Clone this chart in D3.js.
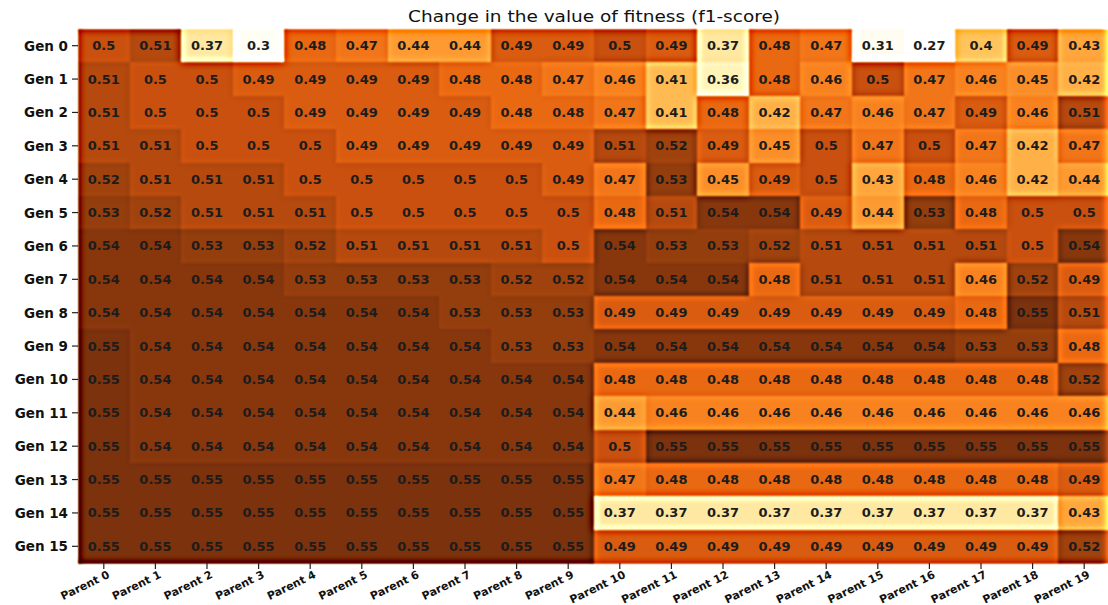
<!DOCTYPE html>
<html>
<head>
<meta charset="utf-8">
<script src="https://cdn.jsdelivr.net/npm/d3@7"></script>
<style>
  body { margin: 0; background: #fff; }
  svg { display: block; font-family: 'DejaVu Sans', sans-serif; }
</style>
</head>
<body>
<svg id="chart" width="1108" height="605"></svg>
<script>
// rows = generations, columns = parents
const generations = ['Gen 0', 'Gen 1', 'Gen 2', 'Gen 3', 'Gen 4', 'Gen 5', 'Gen 6', 'Gen 7',
    'Gen 8', 'Gen 9', 'Gen 10', 'Gen 11', 'Gen 12', 'Gen 13', 'Gen 14', 'Gen 15'];
const parents = ['Parent 0', 'Parent 1', 'Parent 2', 'Parent 3', 'Parent 4', 'Parent 5', 'Parent 6',
    'Parent 7', 'Parent 8', 'Parent 9', 'Parent 10', 'Parent 11', 'Parent 12', 'Parent 13',
    'Parent 14', 'Parent 15', 'Parent 16', 'Parent 17', 'Parent 18', 'Parent 19'];

const f1Scores = [
    [0.50, 0.51, 0.37, 0.30, 0.48, 0.47, 0.44, 0.44, 0.49, 0.49, 0.50, 0.49, 0.37, 0.48, 0.47, 0.31, 0.27, 0.40, 0.49, 0.43],
    [0.51, 0.50, 0.50, 0.49, 0.49, 0.49, 0.49, 0.48, 0.48, 0.47, 0.46, 0.41, 0.36, 0.48, 0.46, 0.50, 0.47, 0.46, 0.45, 0.42],
    [0.51, 0.50, 0.50, 0.50, 0.49, 0.49, 0.49, 0.49, 0.48, 0.48, 0.47, 0.41, 0.48, 0.42, 0.47, 0.46, 0.47, 0.49, 0.46, 0.51],
    [0.51, 0.51, 0.50, 0.50, 0.50, 0.49, 0.49, 0.49, 0.49, 0.49, 0.51, 0.52, 0.49, 0.45, 0.50, 0.47, 0.50, 0.47, 0.42, 0.47],
    [0.52, 0.51, 0.51, 0.51, 0.50, 0.50, 0.50, 0.50, 0.50, 0.49, 0.47, 0.53, 0.45, 0.49, 0.50, 0.43, 0.48, 0.46, 0.42, 0.44],
    [0.53, 0.52, 0.51, 0.51, 0.51, 0.50, 0.50, 0.50, 0.50, 0.50, 0.48, 0.51, 0.54, 0.54, 0.49, 0.44, 0.53, 0.48, 0.50, 0.50],
    [0.54, 0.54, 0.53, 0.53, 0.52, 0.51, 0.51, 0.51, 0.51, 0.50, 0.54, 0.53, 0.53, 0.52, 0.51, 0.51, 0.51, 0.51, 0.50, 0.54],
    [0.54, 0.54, 0.54, 0.54, 0.53, 0.53, 0.53, 0.53, 0.52, 0.52, 0.54, 0.54, 0.54, 0.48, 0.51, 0.51, 0.51, 0.46, 0.52, 0.49],
    [0.54, 0.54, 0.54, 0.54, 0.54, 0.54, 0.54, 0.53, 0.53, 0.53, 0.49, 0.49, 0.49, 0.49, 0.49, 0.49, 0.49, 0.48, 0.55, 0.51],
    [0.55, 0.54, 0.54, 0.54, 0.54, 0.54, 0.54, 0.54, 0.53, 0.53, 0.54, 0.54, 0.54, 0.54, 0.54, 0.54, 0.54, 0.53, 0.53, 0.48],
    [0.55, 0.54, 0.54, 0.54, 0.54, 0.54, 0.54, 0.54, 0.54, 0.54, 0.48, 0.48, 0.48, 0.48, 0.48, 0.48, 0.48, 0.48, 0.48, 0.52],
    [0.55, 0.54, 0.54, 0.54, 0.54, 0.54, 0.54, 0.54, 0.54, 0.54, 0.44, 0.46, 0.46, 0.46, 0.46, 0.46, 0.46, 0.46, 0.46, 0.46],
    [0.55, 0.54, 0.54, 0.54, 0.54, 0.54, 0.54, 0.54, 0.54, 0.54, 0.50, 0.55, 0.55, 0.55, 0.55, 0.55, 0.55, 0.55, 0.55, 0.55],
    [0.55, 0.55, 0.55, 0.55, 0.55, 0.55, 0.55, 0.55, 0.55, 0.55, 0.47, 0.48, 0.48, 0.48, 0.48, 0.48, 0.48, 0.48, 0.48, 0.49],
    [0.55, 0.55, 0.55, 0.55, 0.55, 0.55, 0.55, 0.55, 0.55, 0.55, 0.37, 0.37, 0.37, 0.37, 0.37, 0.37, 0.37, 0.37, 0.37, 0.43],
    [0.55, 0.55, 0.55, 0.55, 0.55, 0.55, 0.55, 0.55, 0.55, 0.55, 0.49, 0.49, 0.49, 0.49, 0.49, 0.49, 0.49, 0.49, 0.49, 0.52]
];

const width = 1108, height = 605;
const plot = {left: 78, top: 29, right: 1110, bottom: 563};

const svg = d3.select('#chart');

const x = d3.scaleBand().domain(parents).range([plot.left, plot.right]);
const y = d3.scaleBand().domain(generations).range([plot.top, plot.bottom]);

// white -> yellow -> orange -> dark brown
const color = d3.scaleLinear()
    .domain([0.27, 0.31, 0.36, 0.40, 0.43, 0.46, 0.48, 0.50, 0.52, 0.55])
    .range(['#ffffff', '#fffdf2', '#fff4b8', '#ffc45c', '#ffa63c', '#f8821f', '#e96812', '#c9500e', '#a0420d', '#7c320d'])
    .clamp(true);

// soft + sharpened look of the original image (unsharp mask)
const defs = svg.append('defs');
const filter = defs.append('filter')
    .attr('id', 'sharpen')
    .attr('filterUnits', 'userSpaceOnUse')
    .attr('x', 0).attr('y', 0).attr('width', width).attr('height', height)
    .attr('color-interpolation-filters', 'sRGB');
filter.append('feGaussianBlur').attr('in', 'SourceGraphic').attr('stdDeviation', 1).attr('result', 'soft');
filter.append('feGaussianBlur').attr('in', 'soft').attr('stdDeviation', 3.5).attr('result', 'wide');
filter.append('feComposite')
    .attr('in', 'soft').attr('in2', 'wide')
    .attr('operator', 'arithmetic')
    .attr('k1', 0).attr('k2', 2.3).attr('k3', -1.3).attr('k4', 0);

const cells = d3.merge(f1Scores.map((row, i) => row.map((v, j) => ({gen: generations[i], parent: parents[j], value: v}))));

const heat = svg.append('g').attr('filter', 'url(#sharpen)');
heat.append('rect')
    .attr('x', plot.left - 20).attr('y', plot.top - 20)
    .attr('width', plot.right - plot.left + 40).attr('height', plot.bottom - plot.top + 40)
    .attr('fill', '#fff');
heat.selectAll('rect.cell')
    .data(cells)
    .join('rect')
    .attr('class', 'cell')
    .attr('x', d => x(d.parent))
    .attr('y', d => y(d.gen))
    .attr('width', x.bandwidth() + 0.5)
    .attr('height', y.bandwidth() + 0.5)
    .attr('fill', d => color(d.value))
    .attr('shape-rendering', 'crispEdges');

svg.append('g')
    .selectAll('text')
    .data(cells)
    .join('text')
    .attr('x', d => x(d.parent) + x.bandwidth() / 2)
    .attr('y', d => y(d.gen) + y.bandwidth() / 2)
    .attr('text-anchor', 'middle')
    .attr('dominant-baseline', 'central')
    .attr('font-size', 13)
    .attr('font-weight', 'bold')
    .attr('fill', '#1c1c1c')
    .text(d => d3.format('')(+d.value.toFixed(2)));

// y axis
const yAxis = svg.append('g');
yAxis.selectAll('line')
    .data(generations)
    .join('line')
    .attr('x1', plot.left - 6).attr('x2', plot.left)
    .attr('y1', d => y(d) + y.bandwidth() / 2)
    .attr('y2', d => y(d) + y.bandwidth() / 2)
    .attr('stroke', '#222').attr('stroke-width', 1.2);
yAxis.selectAll('text')
    .data(generations)
    .join('text')
    .attr('x', plot.left - 10)
    .attr('y', d => y(d) + y.bandwidth() / 2)
    .attr('text-anchor', 'end')
    .attr('dominant-baseline', 'central')
    .attr('font-size', 13.5)
    .attr('font-weight', 'bold')
    .attr('fill', '#111')
    .text(d => d);

// x axis
const xAxis = svg.append('g');
xAxis.selectAll('line')
    .data(parents)
    .join('line')
    .attr('x1', d => x(d) + x.bandwidth() / 2)
    .attr('x2', d => x(d) + x.bandwidth() / 2)
    .attr('y1', plot.bottom).attr('y2', plot.bottom + 6)
    .attr('stroke', '#222').attr('stroke-width', 1.2);
xAxis.selectAll('text')
    .data(parents)
    .join('text')
    .attr('transform', d => `translate(${x(d) + x.bandwidth() / 2 + 3},${plot.bottom + 7}) rotate(-26)`)
    .attr('text-anchor', 'end')
    .attr('dominant-baseline', 'hanging')
    .attr('font-size', 11)
    .attr('font-weight', 'bold')
    .attr('fill', '#111')
    .text(d => d);

svg.append('text')
    .attr('x', (plot.left + plot.right) / 2)
    .attr('y', 22)
    .attr('text-anchor', 'middle')
    .attr('font-size', 15)
    .attr('textLength', 372)
    .attr('lengthAdjust', 'spacingAndGlyphs')
    .attr('fill', '#111')
    .text('Change in the value of fitness (f1-score)');
</script>
</body>
</html>
